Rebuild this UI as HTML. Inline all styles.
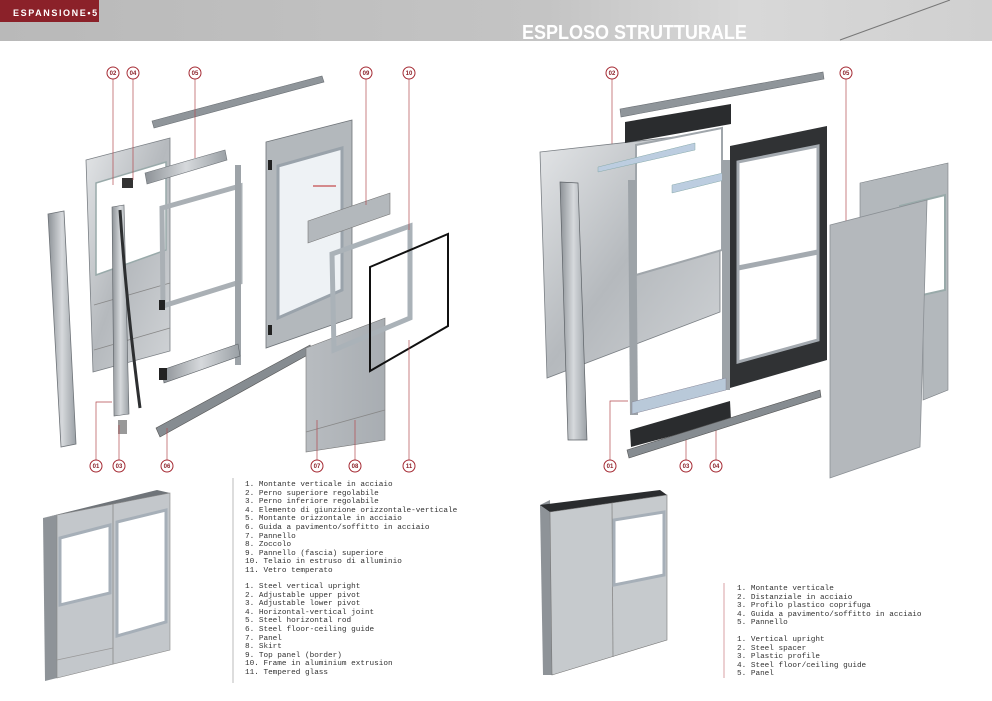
<!DOCTYPE html>
<html><head><meta charset="utf-8"><style>
html,body{margin:0;padding:0;background:#fff}
body{width:992px;height:701px;position:relative;overflow:hidden;font-family:"Liberation Sans",sans-serif}
.leg{position:absolute;font-family:"Liberation Mono",monospace;font-size:7.7px;line-height:8.6px;color:#333;white-space:pre}
</style></head><body>
<svg width="992" height="701" viewBox="0 0 992 701" style="position:absolute;left:0;top:0">
<defs>
<linearGradient id="hd" x1="0" x2="1"><stop offset="0" stop-color="#b9b9b9"/><stop offset=".55" stop-color="#c4c4c4"/><stop offset=".75" stop-color="#d8d8d8"/><stop offset="1" stop-color="#d0d0d0"/></linearGradient>
<linearGradient id="met" x1="0" x2="1"><stop offset="0" stop-color="#8c9196"/><stop offset=".5" stop-color="#d6d9dc"/><stop offset="1" stop-color="#9aa0a5"/></linearGradient>
<linearGradient id="pan" x1="0" x2="1" y1="0" y2="1"><stop offset="0" stop-color="#e4e6e8"/><stop offset=".5" stop-color="#b5b9bd"/><stop offset="1" stop-color="#d0d3d6"/></linearGradient>
<linearGradient id="pan2" x1="0" x2="1"><stop offset="0" stop-color="#b8bcc0"/><stop offset="1" stop-color="#a8adb2"/></linearGradient>
</defs>
<rect x="0" y="0" width="992" height="41" fill="url(#hd)"/>
<line x1="840" y1="40" x2="950" y2="0" stroke="#777" stroke-width="1"/>
<rect x="0" y="0" width="99" height="22" fill="#8b2129"/>
<text x="13" y="16" fill="#fff" font-size="9" font-weight="bold" letter-spacing="1.6">ESPANSIONE•5</text>
<text x="522" y="39" fill="#fff" font-size="20" font-weight="bold" transform="translate(522 0) scale(0.9 1) translate(-522 0)">ESPLOSO STRUTTURALE</text>

<polygon points="48,214 64,211 76,444 61,447" fill="url(#met)" stroke="#6e7378" stroke-width="0.8"/>
<polygon points="152,121 322,76 324,82 154,128" fill="#8f959a" stroke="#6a6f74" stroke-width="0.6"/>
<polygon points="86,160 170,138 170,351 93,372" fill="url(#pan)" stroke="#7a7f84" stroke-width="0.8"/>
<polygon points="96,183 166,162 166,250 96,275" fill="#fff" stroke="#9aa" stroke-width="1.5"/>
<line x1="94" y1="305" x2="170" y2="283" stroke="#888" stroke-width=".8"/>
<line x1="94" y1="350" x2="170" y2="328" stroke="#888" stroke-width=".8"/>
<polygon points="112,207 124,205 129,414 114,416" fill="url(#met)" stroke="#5d6267" stroke-width="0.6"/>
<path d="M120,210 Q126,300 140,408" stroke="#2d2f31" stroke-width="3" fill="none"/>
<rect x="118" y="420" width="9" height="14" fill="#999"/>
<rect x="122" y="178" width="11" height="10" fill="#333"/>
<polygon points="145,173 225,150 227,160 147,184" fill="url(#met)" stroke="#6e7378" stroke-width=".6"/>
<polygon points="162,208 240,186 240,282 163,306" fill="none" stroke="#aab0b5" stroke-width="5"/>
<line x1="238" y1="165" x2="238" y2="365" stroke="#9da3a8" stroke-width="6"/>
<polygon points="162,370 238,344 240,356 164,383" fill="url(#met)" stroke="#5d6267" stroke-width=".6"/>
<rect x="159" y="368" width="8" height="12" fill="#222"/>
<rect x="159" y="300" width="6" height="10" fill="#222"/>
<polygon points="156,428 310,345 313,352 160,437" fill="#868c91" stroke="#555" stroke-width=".6"/>
<polygon points="266,142 352,120 352,318 266,348" fill="#b3b8bc" stroke="#6e7378" stroke-width=".8"/>
<polygon points="278,166 342,148 342,290 278,318" fill="#eef2f5" stroke="#9aa3ab" stroke-width="3"/>
<rect x="268" y="160" width="4" height="10" fill="#222"/><rect x="268" y="325" width="4" height="10" fill="#222"/>
<line x1="313" y1="186" x2="336" y2="186" stroke="#b22" stroke-width="1"/>
<polygon points="308,221 390,193 390,214 308,243" fill="#b3b8bc" stroke="#777" stroke-width=".6"/>
<polygon points="306,348 385,318 385,440 306,452" fill="url(#pan2)" stroke="#777" stroke-width=".6"/>
<line x1="306" y1="432" x2="385" y2="410" stroke="#888" stroke-width=".8"/>
<polygon points="332,254 410,226 410,318 334,350" fill="none" stroke="#aab2b8" stroke-width="5"/>
<polygon points="370,267 448,234 448,326 370,371" fill="none" stroke="#111" stroke-width="2"/>
<g stroke="#b24a4f" stroke-width=".7" fill="none">
<line x1="113" y1="79" x2="113" y2="185"/><line x1="133" y1="79" x2="133" y2="180"/><line x1="195" y1="79" x2="195" y2="158"/>
<line x1="366" y1="79" x2="366" y2="205"/><line x1="409" y1="79" x2="409" y2="230"/>
<polyline points="96,460 96,402 112,402"/><line x1="119" y1="460" x2="119" y2="425"/><line x1="167" y1="460" x2="167" y2="428"/>
<line x1="317" y1="460" x2="317" y2="420"/><line x1="355" y1="460" x2="355" y2="420"/><line x1="409" y1="460" x2="409" y2="340"/>
<line x1="612" y1="79" x2="612" y2="165"/><line x1="846" y1="79" x2="846" y2="238"/>
<polyline points="610,460 610,401 628,401"/><line x1="686" y1="460" x2="686" y2="420"/><line x1="716" y1="460" x2="716" y2="425"/>
</g>

<polygon points="540,152 720,132 720,312 547,378" fill="url(#pan)" stroke="#7a7f84" stroke-width=".8"/>
<polygon points="560,182 578,183 587,440 568,440" fill="url(#met)" stroke="#5d6267" stroke-width=".7"/>
<polygon points="620,109 823,72 824,79 621,117" fill="#8f959a" stroke="#6a6f74" stroke-width=".6"/>
<polygon points="625,122 731,104 731,124 625,143" fill="#2a2c2e"/>
<polygon points="636,145 722,128 722,250 636,275" fill="#fff" stroke="#a0a6ab" stroke-width="2"/>
<polygon points="598,167 695,143 695,150 598,172" fill="#bccde0" stroke="#8aa" stroke-width=".5"/>
<polygon points="672,185 765,163 765,170 672,193" fill="#bccde0" stroke="#8aa" stroke-width=".5"/>
<polygon points="730,146 827,126 827,360 730,388" fill="#303234"/>
<polygon points="738,162 818,146 818,340 738,362" fill="#fff" stroke="#a4aab0" stroke-width="3"/>
<line x1="738" y1="268" x2="818" y2="252" stroke="#a4aab0" stroke-width="5"/>
<line x1="632" y1="180" x2="634" y2="415" stroke="#9da3a8" stroke-width="8"/>
<line x1="726" y1="160" x2="726" y2="390" stroke="#9da3a8" stroke-width="8"/>
<polygon points="632,402 726,378 726,390 632,414" fill="#b9c9d9" stroke="#889" stroke-width=".5"/>
<polygon points="630,430 730,401 731,420 631,447" fill="#2a2c2e"/>
<polygon points="627,450 820,390 821,397 629,458" fill="#868c91" stroke="#555" stroke-width=".6"/>
<polygon points="860,183 948,163 948,390 923,400 923,212 860,225" fill="#b3b8bc" stroke="#7a7f84" stroke-width=".6"/>
<polygon points="900,206 945,195 945,290 900,300" fill="#fff" stroke="#9aa" stroke-width="2"/>
<polygon points="830,225 927,200 920,447 830,478" fill="#b4b8bc" stroke="#8a8f94" stroke-width=".8"/>

<g fill="#fff" stroke="#a52a33" stroke-width="1">
<circle cx="113" cy="73" r="6"/><circle cx="133" cy="73" r="6"/><circle cx="195" cy="73" r="6"/><circle cx="366" cy="73" r="6"/><circle cx="409" cy="73" r="6"/>
<circle cx="96" cy="466" r="6"/><circle cx="119" cy="466" r="6"/><circle cx="167" cy="466" r="6"/><circle cx="317" cy="466" r="6"/><circle cx="355" cy="466" r="6"/><circle cx="409" cy="466" r="6"/>
<circle cx="612" cy="73" r="6"/><circle cx="846" cy="73" r="6"/><circle cx="610" cy="466" r="6"/><circle cx="686" cy="466" r="6"/><circle cx="716" cy="466" r="6"/>
</g>
<g fill="#8b2129" font-size="6" font-weight="bold" text-anchor="middle">
<text x="113" y="75">02</text><text x="133" y="75">04</text><text x="195" y="75">05</text><text x="366" y="75">09</text><text x="409" y="75">10</text>
<text x="96" y="468">01</text><text x="119" y="468">03</text><text x="167" y="468">06</text><text x="317" y="468">07</text><text x="355" y="468">08</text><text x="409" y="468">11</text>
<text x="612" y="75">02</text><text x="846" y="75">05</text><text x="610" y="468">01</text><text x="686" y="468">03</text><text x="716" y="468">04</text>
</g>

<polygon points="43,518 57,515 57,678 45,681" fill="#8e9398"/>
<polygon points="43,518 157,490 170,493 57,515" fill="#6f7479"/>
<polygon points="57,515 170,493 170,650 57,678" fill="#c3c7cb" stroke="#888" stroke-width=".6"/>
<line x1="113" y1="504" x2="113" y2="664" stroke="#888" stroke-width=".8"/>
<polygon points="60,538 110,525 110,593 60,605" fill="#fff" stroke="#a6afb8" stroke-width="3"/>
<polygon points="117,522 166,510 166,622 117,636" fill="#fff" stroke="#a6afb8" stroke-width="3"/>
<line x1="57" y1="660" x2="113" y2="648" stroke="#999" stroke-width=".8"/>
<polygon points="540,505 550,500 552,675 543,675" fill="#8e9398"/>
<polygon points="540,505 660,490 667,495 550,512" fill="#2a2c2e"/>
<polygon points="550,512 667,495 667,640 552,675" fill="#c6cacd" stroke="#777" stroke-width=".6"/>
<line x1="612" y1="503" x2="613" y2="657" stroke="#888" stroke-width=".8"/>
<polygon points="614,520 664,512 664,575 614,585" fill="#fff" stroke="#a6afb8" stroke-width="3"/>
<line x1="233" y1="478" x2="233" y2="683" stroke="#bbb" stroke-width="1"/>
<line x1="724" y1="583" x2="724" y2="678" stroke="#d8a0a4" stroke-width="1"/>
</svg>
<div class="leg" style="left:245px;top:481px">1. Montante verticale in acciaio
2. Perno superiore regolabile
3. Perno inferiore regolabile
4. Elemento di giunzione orizzontale-verticale
5. Montante orizzontale in acciaio
6. Guida a pavimento/soffitto in acciaio
7. Pannello
8. Zoccolo
9. Pannello (fascia) superiore
10. Telaio in estruso di alluminio
11. Vetro temperato</div>
<div class="leg" style="left:245px;top:583px">1. Steel vertical upright
2. Adjustable upper pivot
3. Adjustable lower pivot
4. Horizontal-vertical joint
5. Steel horizontal rod
6. Steel floor-ceiling guide
7. Panel
8. Skirt
9. Top panel (border)
10. Frame in aluminium extrusion
11. Tempered glass</div>
<div class="leg" style="left:737px;top:585px">1. Montante verticale
2. Distanziale in acciaio
3. Profilo plastico coprifuga
4. Guida a pavimento/soffitto in acciaio
5. Pannello</div>
<div class="leg" style="left:737px;top:636px">1. Vertical upright
2. Steel spacer
3. Plastic profile
4. Steel floor/ceiling guide
5. Panel</div>
</body></html>
